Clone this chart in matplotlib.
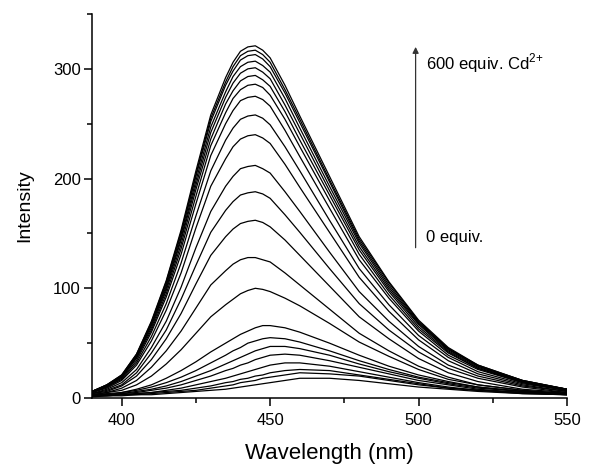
import matplotlib
matplotlib.use('Agg')
import matplotlib.pyplot as plt
from matplotlib.ticker import MultipleLocator

plt.rcParams['font.family'] = ['Liberation Sans', 'DejaVu Sans']
plt.rcParams['mathtext.fontset'] = 'custom'
plt.rcParams['mathtext.rm'] = 'Liberation Sans'

wl = [390, 395, 400, 405, 410, 415, 420, 425, 430, 435, 437.5, 440, 442.5,
      445, 447.5, 450, 455, 460, 470, 480, 490, 500, 510, 520, 535, 550]

# emission spectra, from 0 equiv. up to 600 equiv. Cd2+
spectra = [
    [1, 2, 2, 3, 3, 4, 5, 6, 7, 8, 9, 10, 11, 12, 13, 14, 16, 18, 18, 16, 13, 10, 8, 6, 4, 3],
    [2, 2, 3, 3, 4, 5, 6, 7, 9, 11, 12, 14, 15, 16, 18, 19, 21, 23, 22, 20, 16, 12, 9, 7, 4, 3],
    [2, 2, 3, 4, 5, 6, 7, 9, 11, 14, 15, 17, 18, 20, 21, 23, 25, 26, 25, 21, 17, 13, 9, 7, 5, 3],
    [2, 3, 3, 4, 5, 7, 9, 12, 15, 18, 20, 22, 24, 26, 28, 30, 32, 32, 29, 24, 19, 14, 10, 7, 5, 3],
    [2, 3, 4, 5, 7, 9, 12, 16, 20, 25, 27, 30, 32, 35, 37, 39, 40, 39, 34, 28, 22, 16, 12, 8, 5, 4],
    [2, 3, 4, 6, 8, 11, 15, 20, 25, 31, 34, 37, 40, 43, 45, 47, 47, 45, 39, 31, 24, 18, 13, 9, 6, 4],
    [3, 3, 5, 7, 10, 14, 19, 25, 32, 39, 43, 46, 50, 52, 54, 55, 54, 51, 43, 34, 26, 19, 14, 10, 6, 4],
    [3, 4, 5, 8, 12, 18, 25, 33, 42, 50, 54, 58, 61, 64, 66, 66, 64, 60, 50, 39, 29, 21, 15, 10, 6, 4],
    [3, 5, 7, 12, 20, 31, 44, 59, 74, 85, 90, 95, 98, 100, 99, 97, 91, 84, 68, 51, 38, 26, 17, 12, 7, 4],
    [3, 5, 9, 16, 28, 43, 61, 82, 103, 116, 122, 126, 128, 128, 126, 124, 114, 103, 81, 59, 43, 29, 19, 12, 7, 4],
    [4, 6, 11, 20, 35, 54, 77, 104, 130, 147, 154, 159, 161, 162, 160, 156, 144, 130, 102, 74, 54, 36, 23, 15, 8, 5],
    [4, 7, 12, 23, 41, 62, 90, 121, 151, 171, 179, 185, 187, 188, 186, 182, 167, 151, 118, 86, 62, 42, 27, 18, 10, 5],
    [4, 8, 14, 26, 46, 70, 101, 137, 170, 193, 202, 209, 211, 212, 209, 205, 188, 170, 133, 97, 70, 47, 30, 20, 11, 6],
    [5, 9, 16, 30, 52, 80, 114, 155, 193, 218, 229, 236, 239, 240, 237, 232, 213, 192, 151, 110, 79, 53, 34, 22, 12, 6],
    [5, 10, 17, 32, 56, 86, 123, 166, 207, 235, 246, 254, 257, 258, 255, 249, 229, 207, 162, 118, 85, 57, 37, 24, 13, 7],
    [5, 10, 18, 34, 60, 92, 131, 177, 221, 250, 262, 271, 274, 275, 272, 266, 244, 220, 173, 126, 91, 61, 39, 26, 14, 7],
    [6, 11, 19, 36, 62, 95, 136, 184, 230, 260, 273, 281, 285, 286, 283, 276, 254, 229, 180, 131, 94, 63, 41, 27, 14, 7],
    [6, 11, 19, 37, 64, 98, 140, 190, 236, 268, 280, 289, 293, 294, 290, 284, 261, 235, 185, 135, 97, 65, 42, 27, 15, 7],
    [6, 11, 20, 38, 66, 100, 144, 194, 242, 274, 287, 296, 300, 301, 297, 291, 267, 241, 189, 138, 99, 67, 43, 28, 15, 8],
    [6, 11, 20, 38, 67, 102, 146, 198, 247, 279, 293, 302, 306, 307, 303, 297, 273, 246, 193, 141, 101, 68, 44, 29, 15, 8],
    [6, 12, 20, 39, 68, 104, 149, 202, 252, 285, 298, 308, 312, 313, 309, 302, 278, 251, 197, 143, 103, 69, 45, 29, 16, 8],
    [6, 12, 21, 40, 69, 106, 151, 204, 255, 288, 302, 312, 316, 317, 313, 306, 281, 254, 199, 145, 105, 70, 45, 30, 16, 8],
    [6, 12, 21, 40, 70, 107, 153, 207, 258, 292, 306, 316, 320, 321, 317, 310, 285, 257, 202, 147, 106, 71, 46, 30, 16, 8],
]

fig = plt.figure(figsize=(6.11, 4.66), dpi=100)
ax = fig.add_axes([0.1506, 0.1459, 0.7774, 0.8241])

for s in spectra:
    ax.plot(wl, s, color='black', lw=0.9)

ax.set_xlim(390, 550)
ax.set_ylim(0, 350)
ax.xaxis.set_major_locator(MultipleLocator(50))
ax.xaxis.set_minor_locator(MultipleLocator(25))
ax.yaxis.set_major_locator(MultipleLocator(100))
ax.yaxis.set_minor_locator(MultipleLocator(50))
ax.tick_params(which='major', direction='out', length=6, width=1.1, labelsize=12)
ax.tick_params(which='minor', direction='out', length=3.5, width=1.1)
ax.tick_params(axis='x', pad=4.5)
ax.tick_params(axis='y', pad=2)
for side in ['top', 'right']:
    ax.spines[side].set_visible(False)
for side in ['left', 'bottom']:
    ax.spines[side].set_linewidth(1.1)

ax.set_xlabel('Wavelength (nm)', fontsize=16, labelpad=11)
ax.set_ylabel('Intensity', fontsize=14, labelpad=14)

# titration arrow
ax.annotate('', xy=(499, 320), xytext=(499, 137),
            arrowprops=dict(arrowstyle='-|>', color='#333333', lw=0.9,
                            mutation_scale=9, shrinkA=0, shrinkB=0))
ax.text(502.5, 305, r'600 equiv. Cd$^{\mathregular{2{+}}}$', fontsize=12, va='center')
ax.text(502.5, 146, '0 equiv.', fontsize=12, va='center')

fig.savefig('out.png', dpi=100)
